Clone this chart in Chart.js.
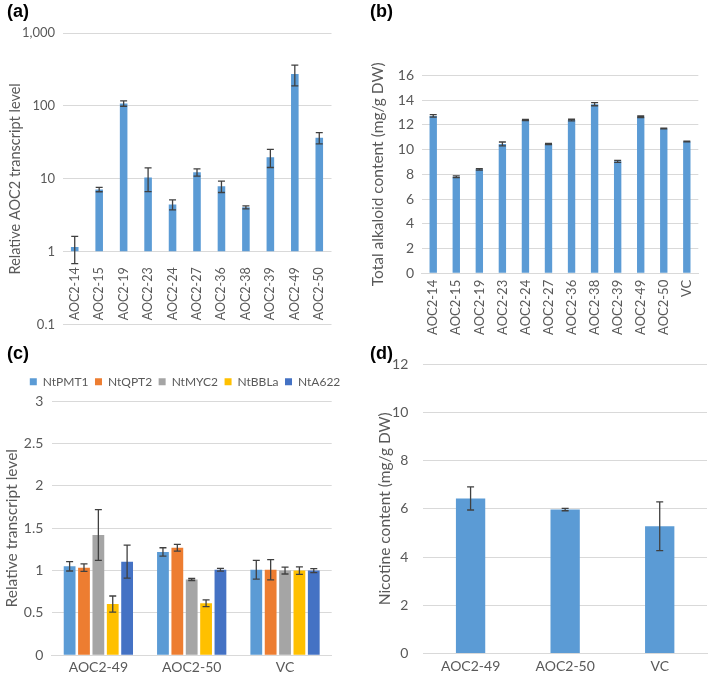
<!DOCTYPE html>
<html>
<head>
<meta charset="utf-8">
<script src="https://cdn.jsdelivr.net/npm/chart.js@4"></script>
<style>
  body { margin: 0; background: #fff; }
  #wrap { position: relative; width: 709px; height: 677px; overflow: hidden; }
  canvas { position: absolute; }
  .tag { position: absolute; font: bold 18px "Liberation Sans", Arial, sans-serif; line-height: 18px; color: #000; }
</style>
</head>
<body>
<div id="wrap">
  <canvas id="chartA" width="354" height="340" style="left:0;top:0"></canvas>
  <canvas id="chartB" width="354" height="340" style="left:355px;top:0"></canvas>
  <canvas id="chartC" width="354" height="337" style="left:0;top:340px"></canvas>
  <canvas id="chartD" width="354" height="337" style="left:355px;top:340px"></canvas>
  <div class="tag" style="left:7px;top:2px">(a)</div>
  <div class="tag" style="left:370px;top:2px">(b)</div>
  <div class="tag" style="left:7px;top:344px">(c)</div>
  <div class="tag" style="left:370px;top:344px">(d)</div>
</div>
<script>
// (a) AOC2 transcript level, log scale
const aCats = ["AOC2-14", "AOC2-15", "AOC2-19", "AOC2-23", "AOC2-24", "AOC2-27", "AOC2-36", "AOC2-38", "AOC2-39", "AOC2-49", "AOC2-50"];
const aValues = [1.16, 7.15, 108, 10.4, 4.45, 12.3, 7.9, 4.07, 19.8, 275, 36.6];
const aErrors = [0.47, 0.5, 9, 3.7, 0.7, 1.4, 1.4, 0.2, 5.5, 87, 6.5];
const aTicks = [0.1, 1, 10, 100, 1000];

// (b) total alkaloid content
const bCats = ["AOC2-14", "AOC2-15", "AOC2-19", "AOC2-23", "AOC2-24", "AOC2-27", "AOC2-36", "AOC2-38", "AOC2-39", "AOC2-49", "AOC2-50", "VC"];
const bValues = [12.72, 7.8, 8.4, 10.45, 12.38, 10.45, 12.38, 13.67, 9.05, 12.65, 11.7, 10.65];
const bErrors = [0.1, 0.07, 0.06, 0.16, 0.05, 0.05, 0.07, 0.13, 0.08, 0.06, 0.03, 0.03];

// (c) relative transcript level of pathway genes
const cCats = ["AOC2-49", "AOC2-50", "VC"];
const cGenes = ["NtPMT1", "NtQPT2", "NtMYC2", "NtBBLa", "NtA622"];
const cPMT1 = [1.05, 1.22, 1.01];
const cPMT1Err = [0.055, 0.05, 0.11];
const cQPT2 = [1.035, 1.27, 1.01];
const cQPT2Err = [0.045, 0.04, 0.12];
const cMYC2 = [1.42, 0.895, 1.0];
const cMYC2Err = [0.3, 0.012, 0.04];
const cBBLa = [0.605, 0.615, 1.0];
const cBBLaErr = [0.095, 0.04, 0.045];
const cA622 = [1.105, 1.01, 1.0];
const cA622Err = [0.195, 0.016, 0.024];

// (d) nicotine content
const dCats = ["AOC2-49", "AOC2-50", "VC"];
const dValues = [6.43, 5.97, 5.28];
const dErrors = [0.48, 0.05, 1.01];

const BLUE = "#5B9BD5";
const GENE_COLORS = ["#5B9BD5", "#ED7D31", "#A5A5A5", "#FFC000", "#4472C4"];
const GRID = "#D9D9D9";

Chart.defaults.font.family = 'Lato, "Open Sans", sans-serif';
Chart.defaults.color = "#595959";
Chart.defaults.animation = false;
Chart.defaults.plugins.legend.display = false;
Chart.defaults.plugins.tooltip.enabled = false;

const fixWidth = w => s => { s.width = w; };
const fixHeight = h => s => { s.height = h; };

// whiskers drawn from each dataset's "errors" list
const errorBars = {
  id: "errorBars",
  afterDatasetsDraw(chart) {
    const { ctx } = chart;
    const y = chart.scales.y;
    ctx.save();
    ctx.strokeStyle = "#404040";
    ctx.lineWidth = 1.3;
    chart.data.datasets.forEach((ds, i) => {
      if (!ds.errors) return;
      chart.getDatasetMeta(i).data.forEach((bar, j) => {
        const v = ds.data[j], e = ds.errors[j];
        const top = y.getPixelForValue(v + e);
        const bot = y.getPixelForValue(v - e);
        ctx.beginPath();
        ctx.moveTo(bar.x, top); ctx.lineTo(bar.x, bot);
        ctx.moveTo(bar.x - 3.5, top); ctx.lineTo(bar.x + 3.5, top);
        ctx.moveTo(bar.x - 3.5, bot); ctx.lineTo(bar.x + 3.5, bot);
        ctx.stroke();
      });
    });
    ctx.restore();
  }
};

// nudge the legend box after layout
const legendShift = {
  id: "legendShift",
  afterLayout(chart, args, opts) {
    const lg = chart.legend;
    if (!lg || !opts.dx && !opts.dy) return;
    lg.left += opts.dx || 0; lg.right += opts.dx || 0;
    lg.top += opts.dy || 0; lg.bottom += opts.dy || 0;
  }
};

const yTitle = (text, size, pad) => ({ display: true, text, font: { size }, padding: { top: pad, bottom: 0 } });
const noGrid = { display: false, drawTicks: false };

new Chart(document.getElementById("chartA"), {
  type: "bar",
  data: {
    labels: aCats,
    datasets: [{ data: aValues, errors: aErrors, backgroundColor: BLUE, base: 1, barPercentage: 0.31, categoryPercentage: 1 }]
  },
  options: {
    responsive: false,
    devicePixelRatio: 1,
    layout: { padding: { top: 33, right: 22.5, bottom: 13, left: 0 } },
    scales: {
      x: {
        position: { y: 1 },
        grid: noGrid,
        border: { display: false },
        ticks: { minRotation: 90, maxRotation: 90, autoSkip: false, padding: 15.5, font: { size: 12.5 } }
      },
      y: {
        type: "logarithmic",
        min: 0.1,
        max: 1000,
        afterFit: fixWidth(62.5),
        afterBuildTicks: s => { s.ticks = aTicks.map(v => ({ value: v })); },
        ticks: { padding: 7.5, font: { size: 13 }, callback: v => Number(v).toLocaleString("en-US") },
        grid: { color: GRID, drawTicks: false },
        border: { display: false },
        title: yTitle("Relative AOC2 transcript level", 14.5, 6.3)
      }
    }
  },
  plugins: [errorBars]
});

new Chart(document.getElementById("chartB"), {
  type: "bar",
  data: {
    labels: bCats,
    datasets: [{ data: bValues, errors: bErrors, backgroundColor: BLUE, barPercentage: 0.32, categoryPercentage: 1 }]
  },
  options: {
    responsive: false,
    devicePixelRatio: 1,
    layout: { padding: { top: 75.3, right: 2, bottom: 0, left: 0 } },
    scales: {
      x: {
        afterFit: fixHeight(66.7),
        grid: noGrid,
        border: { color: GRID },
        ticks: { minRotation: 90, maxRotation: 90, autoSkip: false, padding: 6.5, font: { size: 13 } }
      },
      y: {
        min: 0,
        max: 16,
        afterFit: fixWidth(66.7),
        ticks: { stepSize: 2, padding: 7.7, font: { size: 14 } },
        grid: { color: GRID, drawTicks: false },
        border: { display: false },
        title: yTitle("Total alkaloid content (mg/g DW)", 15.5, 13.7)
      }
    }
  },
  plugins: [errorBars]
});

const cSeries = [cPMT1, cQPT2, cMYC2, cBBLa, cA622];
const cErrs = [cPMT1Err, cQPT2Err, cMYC2Err, cBBLaErr, cA622Err];

new Chart(document.getElementById("chartC"), {
  type: "bar",
  data: {
    labels: cCats,
    datasets: cGenes.map((g, i) => ({
      label: g,
      data: cSeries[i],
      errors: cErrs[i],
      backgroundColor: GENE_COLORS[i],
      barPercentage: 0.82,
      categoryPercentage: 0.77
    }))
  },
  options: {
    responsive: false,
    devicePixelRatio: 1,
    layout: { padding: { top: 32.7, right: 22.3, bottom: 0, left: 0 } },
    plugins: {
      legend: {
        display: true,
        position: "top",
        labels: { boxWidth: 7, boxHeight: 7, padding: 6.5, font: { size: 12 }, color: "#595959" }
      },
      legendShift: { dx: 19.2, dy: -3.5 }
    },
    scales: {
      x: {
        afterFit: fixHeight(21.7),
        grid: noGrid,
        border: { color: GRID },
        ticks: { padding: 4, font: { size: 14 } }
      },
      y: {
        min: 0,
        max: 3,
        afterFit: fixWidth(51.7),
        ticks: { stepSize: 0.5, padding: 8.4, font: { size: 14 }, callback: v => String(Math.round(v * 10) / 10) },
        grid: { color: GRID, drawTicks: false },
        border: { display: false },
        title: yTitle("Relative transcript level", 15.5, 2.4)
      }
    }
  },
  plugins: [errorBars, legendShift]
});

new Chart(document.getElementById("chartD"), {
  type: "bar",
  data: {
    labels: dCats,
    datasets: [{ data: dValues, errors: dErrors, backgroundColor: BLUE, barPercentage: 0.31, categoryPercentage: 1 }]
  },
  options: {
    responsive: false,
    devicePixelRatio: 1,
    layout: { padding: { top: 24, right: 2, bottom: 0, left: 0 } },
    scales: {
      x: {
        afterFit: fixHeight(21.7),
        grid: noGrid,
        border: { color: GRID },
        ticks: { padding: 4, font: { size: 14 } }
      },
      y: {
        min: 0,
        max: 12,
        afterFit: fixWidth(68.3),
        ticks: { stepSize: 2, padding: 15, font: { size: 14 } },
        grid: { color: GRID, drawTicks: false },
        border: { display: false },
        title: yTitle("Nicotine content (mg/g DW)", 15.5, 20.7)
      }
    }
  },
  plugins: [errorBars]
});
</script>
</body>
</html>
